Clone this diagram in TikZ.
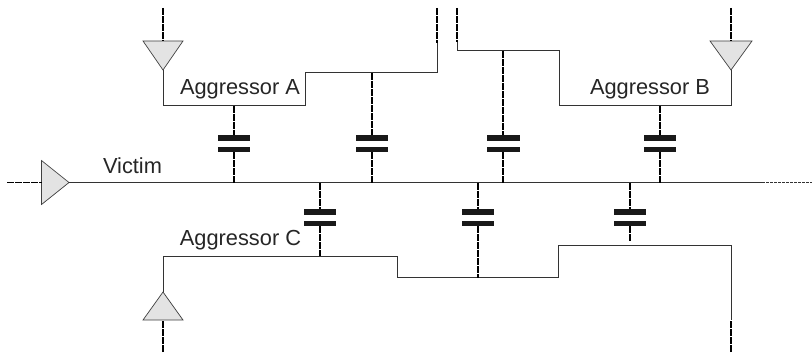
\documentclass[tikz,border=0pt]{standalone}
\usepackage{fontspec}
\setmainfont{Liberation Sans}
\usetikzlibrary{shapes.geometric}

\begin{document}
\begin{tikzpicture}[
        x=0.5pt, y=-0.5pt,
        buffer/.style={isosceles triangle, isosceles triangle stretches, draw=black!75, line width=0.35pt, fill=black!11, inner sep=0pt, outer sep=0pt, anchor=apex},
        plate/.style={rectangle, fill=black!90, minimum width=16pt, minimum height=2.8pt, inner sep=0pt, outer sep=0pt},
        wire/.style={line width=0.5pt, black!80},
        stub/.style={line width=0.8pt, black, dash pattern=on 3.5pt off 0.5pt},
        label/.style={font=\fontsize{10.9pt}{13pt}\selectfont, text=black!85, inner sep=0pt}
    ]
        \useasboundingbox (0,0) rectangle (812,353);

        % Drivers
        \node[buffer, minimum width=22pt, minimum height=13.75pt] (bufv) at (69,182.5) {};
        \node[buffer, shape border rotate=-90, minimum width=20pt, minimum height=14.5pt] (bufa) at (163,70) {};
        \node[buffer, shape border rotate=-90, minimum width=21pt, minimum height=14.5pt] (bufb) at (731,70) {};
        \node[buffer, shape border rotate=90, minimum width=20pt, minimum height=14pt] (bufc) at (163,292) {};

        % Capacitor plates
        \node[plate] (a1t) at (234,138) {};
        \node[plate] (a1b) at (234,149.5) {};
        \node[plate] (a2t) at (372,138) {};
        \node[plate] (a2b) at (372,149.5) {};
        \node[plate, minimum width=16.5pt] (b1t) at (503,138) {};
        \node[plate, minimum width=16.5pt] (b1b) at (503,149.5) {};
        \node[plate] (b2t) at (660,138) {};
        \node[plate] (b2b) at (660,149.5) {};
        \node[plate] (c1t) at (320,212) {};
        \node[plate] (c1b) at (320,223.5) {};
        \node[plate] (c2t) at (478,212) {};
        \node[plate] (c2b) at (478,223.5) {};
        \node[plate] (c3t) at (630,212) {};
        \node[plate] (c3b) at (630,223.5) {};

        % Labels
        \node[label] (vlabel) at (132.5,166) {Victim};
        \node[label] (alabel) at (240,89) {Aggressor A};
        \node[label] (blabel) at (650,89) {Aggressor B};
        \node[label] (clabel) at (240.5,240) {Aggressor C};

        % Free ends and tap points
        \coordinate (vin) at (7,182.5);
        \coordinate (vend) at (762,182.5);
        \coordinate (vout) at (812,182.5);
        \coordinate (ain) at (163,8);
        \coordinate (aout) at (437,8);
        \coordinate (aoutw) at (437,43);
        \coordinate (bin) at (731,8);
        \coordinate (bout) at (457,8);
        \coordinate (boutw) at (457,42);
        \coordinate (cin) at (163,352);
        \coordinate (cout) at (731,352);
        \coordinate (coutw) at (731,320);
        \coordinate (ja1) at (234,105.5);
        \coordinate (ja2) at (372,73);
        \coordinate (jb1) at (503,51);
        \coordinate (jb2) at (660,105.5);
        \coordinate (jc1) at (320,256);
        \coordinate (jc2) at (478,277.5);
        \coordinate (jc3) at (630,241);
        \coordinate (va1) at (234,182.5);
        \coordinate (va2) at (372,182.5);
        \coordinate (vb1) at (503,182.5);
        \coordinate (vb2) at (660,182.5);
        \coordinate (vc1) at (320,182.5);
        \coordinate (vc2) at (478,182.5);
        \coordinate (vc3) at (630,182.5);

        % Wires
        \draw[wire] (bufv.apex) -- (vend);
        \draw[wire] (bufa.apex) -- (163,105.5) -- (305.5,105.5) -- (305.5,73) -- (437,73) -- (aoutw);
        \draw[wire] (bufb.apex) -- (731,105.5) -- (559,105.5) -- (559,51) -- (457,51) -- (boutw);
        \draw[wire] (bufc.apex) -- (163,256) -- (397,256) -- (397,277.5) -- (558.5,277.5) -- (558.5,245) -- (731,245) -- (coutw);

        % Dashed stubs
        \draw[stub] (vin) -- (bufv.lower side);
        \draw[wire, dash pattern=on 1.5pt off 0.5pt] (vend) -- (vout);
        \draw[stub] (ain) -- (bufa.lower side);
        \draw[stub] (aout) -- (aoutw);
        \draw[stub] (bin) -- (bufb.lower side);
        \draw[stub] (bout) -- (boutw);
        \draw[stub] (cin) -- (bufc.lower side);
        \draw[stub] (cout) -- (coutw);

        \draw[stub] (ja1) -- (a1t);
        \draw[stub] (a1b) -- (va1);
        \draw[stub] (ja2) -- (a2t);
        \draw[stub] (a2b) -- (va2);
        \draw[stub] (jb1) -- (b1t);
        \draw[stub] (b1b) -- (vb1);
        \draw[stub] (jb2) -- (b2t);
        \draw[stub] (b2b) -- (vb2);
        \draw[stub] (vc1) -- (c1t);
        \draw[stub] (c1b) -- (jc1);
        \draw[stub] (vc2) -- (c2t);
        \draw[stub] (c2b) -- (jc2);
        \draw[stub] (vc3) -- (c3t);
        \draw[stub] (c3b) -- (jc3);

    \end{tikzpicture}
\end{document}
